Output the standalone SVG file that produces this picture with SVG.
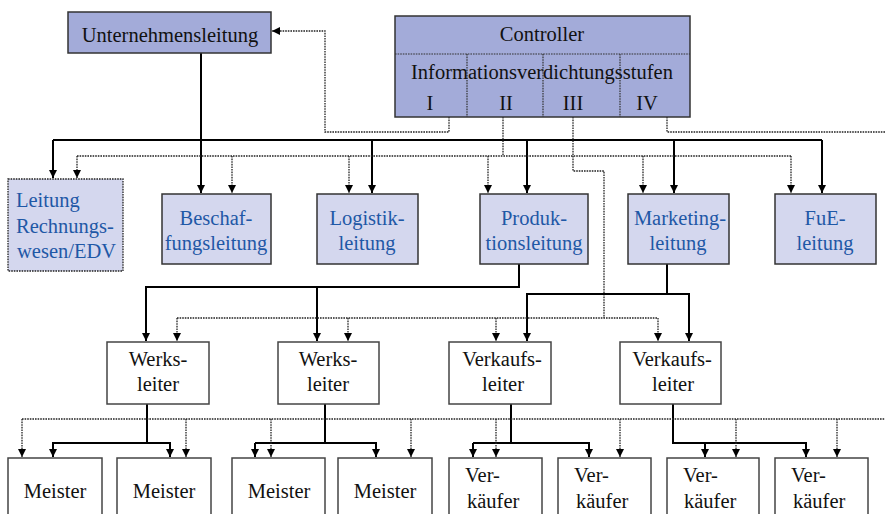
<svg xmlns="http://www.w3.org/2000/svg" width="885" height="514" viewBox="0 0 885 514">
<defs>
<marker id="ah" viewBox="0 0 10 10" refX="10" refY="5" markerWidth="8" markerHeight="8" markerUnits="userSpaceOnUse" orient="auto"><path d="M0,0 L10,5 L0,10 z" fill="#000"/></marker>
<style>
.top{fill:#a3abd9;stroke:#333;stroke-width:1.5}
.mid{fill:#d4d7ee;stroke:#333;stroke-width:1.5}
.wh{fill:#fff;stroke:#444;stroke-width:1.5}
.t{font-family:"Liberation Serif","Times New Roman",serif;font-size:20.5px;fill:#111;text-anchor:middle}
.b{fill:#1f58a6}
.s{text-anchor:start}
.sol{fill:none;stroke:#000;stroke-width:2}
.dot{fill:none;stroke:#222;stroke-width:1.3;stroke-dasharray:1.6 1}
.in{fill:none;stroke:#333;stroke-width:1.2;stroke-dasharray:1.6 1}
</style>
</defs>
<g id="connectors">
<!-- solid level 1 -->
<path class="sol" d="M201,53 V193" marker-end="url(#ah)"/>
<path class="sol" d="M53,140 H822"/>
<path class="sol" d="M53,140 V178" marker-end="url(#ah)"/>
<path class="sol" d="M372,140 V193" marker-end="url(#ah)"/>
<path class="sol" d="M527,140 V193" marker-end="url(#ah)"/>
<path class="sol" d="M674,140 V193" marker-end="url(#ah)"/>
<path class="sol" d="M822,140 V193" marker-end="url(#ah)"/>
<!-- dotted level 1 -->
<path class="dot" d="M449,117 V132 H325 V31 H272" marker-end="url(#ah)"/>
<path class="dot" d="M503,117 V156"/>
<path class="dot" d="M77,156 H791"/>
<path class="dot" d="M77,156 V178" marker-end="url(#ah)"/>
<path class="dot" d="M232,156 V193" marker-end="url(#ah)"/>
<path class="dot" d="M349,156 V193" marker-end="url(#ah)"/>
<path class="dot" d="M488,156 V193" marker-end="url(#ah)"/>
<path class="dot" d="M643,156 V193" marker-end="url(#ah)"/>
<path class="dot" d="M791,156 V193" marker-end="url(#ah)"/>
<path class="dot" d="M573,117 V171 H604 V318"/>
<path class="dot" d="M667,117 V132 H885"/>
<!-- level 2 solid -->
<path class="sol" d="M519,264 V287 H146 V341" marker-end="url(#ah)"/>
<path class="sol" d="M317,287 V341" marker-end="url(#ah)"/>
<path class="sol" d="M667,264 V294"/>
<path class="sol" d="M527,341 V294 H689 V341" marker-end="url(#ah)"/>
<path class="sol" d="M527,294 V341" marker-end="url(#ah)"/>
<!-- level 2 dotted -->
<path class="dot" d="M177,318 H658"/>
<path class="dot" d="M177,318 V341" marker-end="url(#ah)"/>
<path class="dot" d="M348,318 V341" marker-end="url(#ah)"/>
<path class="dot" d="M496,318 V341" marker-end="url(#ah)"/>
<path class="dot" d="M658,318 V341" marker-end="url(#ah)"/>
<!-- level 3 solid -->
<path class="sol" d="M147,404 V443"/>
<path class="sol" d="M53,457 V443 H170 V457" marker-end="url(#ah)"/>
<path class="sol" d="M53,443 V457" marker-end="url(#ah)"/>
<path class="sol" d="M325,404 V443"/>
<path class="sol" d="M255,443 H376 V457" marker-end="url(#ah)"/>
<path class="sol" d="M255,443 V457" marker-end="url(#ah)"/>
<path class="sol" d="M511,404 V443"/>
<path class="sol" d="M473,443 H589 V457" marker-end="url(#ah)"/>
<path class="sol" d="M473,443 V457" marker-end="url(#ah)"/>
<path class="sol" d="M673,404 V443 H806 V457" marker-end="url(#ah)"/>
<path class="sol" d="M705,443 V457" marker-end="url(#ah)"/>
<!-- level 3 dotted -->
<path class="dot" d="M22,419 H885"/>
<path class="dot" d="M22,419 V457" marker-end="url(#ah)"/>
<path class="dot" d="M186,419 V457" marker-end="url(#ah)"/>
<path class="dot" d="M271,419 V457" marker-end="url(#ah)"/>
<path class="dot" d="M411,419 V457" marker-end="url(#ah)"/>
<path class="dot" d="M496,419 V457" marker-end="url(#ah)"/>
<path class="dot" d="M620,419 V457" marker-end="url(#ah)"/>
<path class="dot" d="M736,419 V457" marker-end="url(#ah)"/>
<path class="dot" d="M837,419 V457" marker-end="url(#ah)"/>
</g>
<g id="unternehmensleitung">
<rect class="top" x="68" y="12" width="203" height="41"/>
<text class="t" x="170" y="42">Unternehmensleitung</text>
</g>
<g id="controller">
<rect class="top" x="395" y="16" width="295" height="101"/>
<path class="in" d="M395,54 H690 M467,54 V117 M543,54 V117 M620,54 V117"/>
<text class="t" x="542" y="41">Controller</text>
<text class="t" x="542" y="79">Informationsverdichtungsstufen</text>
<text class="t" x="430" y="110">I</text>
<text class="t" x="506" y="110">II</text>
<text class="t" x="573" y="110">III</text>
<text class="t" x="647" y="110">IV</text>
</g>
<g id="rechnungswesen">
<rect x="8" y="179" width="115" height="92" fill="#d4d7ee" stroke="#222" stroke-width="1.3" stroke-dasharray="1.6 1"/>
<text class="t b s" x="16" y="207">Leitung</text>
<text class="t b s" x="16" y="233">Rechnungs-</text>
<text class="t b s" x="17" y="258">wesen/EDV</text>
</g>
<g id="beschaffung">
<rect class="mid" x="162" y="194" width="109" height="70"/>
<text class="t b" x="216" y="225">Beschaf-</text>
<text class="t b" x="216" y="250">fungsleitung</text>
</g>
<g id="logistik">
<rect class="mid" x="317" y="194" width="101" height="70"/>
<text class="t b" x="367" y="225">Logistik-</text>
<text class="t b" x="367" y="250">leitung</text>
</g>
<g id="produktion">
<rect class="mid" x="480" y="194" width="108" height="70"/>
<text class="t b" x="534" y="225">Produk-</text>
<text class="t b" x="534" y="250">tionsleitung</text>
</g>
<g id="marketing">
<rect class="mid" x="628" y="194" width="101" height="70"/>
<text class="t b" x="680" y="225">Marketing-</text>
<text class="t b" x="678" y="250">leitung</text>
</g>
<g id="fue">
<rect class="mid" x="775" y="194" width="101" height="70"/>
<text class="t b" x="825" y="225">FuE-</text>
<text class="t b" x="825" y="250">leitung</text>
</g>
<g id="werksleiter1">
<rect class="wh" x="107" y="342" width="102" height="62"/>
<text class="t" x="158" y="366">Werks-</text>
<text class="t" x="158" y="391">leiter</text>
</g>
<g id="werksleiter2">
<rect class="wh" x="278" y="342" width="101" height="62"/>
<text class="t" x="328" y="366">Werks-</text>
<text class="t" x="328" y="391">leiter</text>
</g>
<g id="verkaufsleiter1">
<rect class="wh" x="449" y="342" width="102" height="62"/>
<text class="t" x="502" y="366">Verkaufs-</text>
<text class="t" x="503" y="391">leiter</text>
</g>
<g id="verkaufsleiter2">
<rect class="wh" x="620" y="342" width="101" height="62"/>
<text class="t" x="672" y="366">Verkaufs-</text>
<text class="t" x="673" y="391">leiter</text>
</g>
<g id="meister1">
<rect class="wh" x="8" y="458" width="94" height="70"/>
<text class="t" x="55" y="498">Meister</text>
</g>
<g id="meister2">
<rect class="wh" x="117" y="458" width="94" height="70"/>
<text class="t" x="164" y="498">Meister</text>
</g>
<g id="meister3">
<rect class="wh" x="232" y="458" width="93" height="70"/>
<text class="t" x="279" y="498">Meister</text>
</g>
<g id="meister4">
<rect class="wh" x="338" y="458" width="94" height="70"/>
<text class="t" x="385" y="498">Meister</text>
</g>
<g id="verkaeufer1">
<rect class="wh" x="449" y="458" width="93" height="70"/>
<text class="t s" x="465" y="482">Ver-</text>
<text class="t s" x="467" y="508">käufer</text>
</g>
<g id="verkaeufer2">
<rect class="wh" x="558" y="458" width="93" height="70"/>
<text class="t s" x="574" y="482">Ver-</text>
<text class="t s" x="576" y="508">käufer</text>
</g>
<g id="verkaeufer3">
<rect class="wh" x="667" y="458" width="92" height="70"/>
<text class="t s" x="683" y="482">Ver-</text>
<text class="t s" x="684" y="508">käufer</text>
</g>
<g id="verkaeufer4">
<rect class="wh" x="775" y="458" width="93" height="70"/>
<text class="t s" x="791" y="482">Ver-</text>
<text class="t s" x="793" y="508">käufer</text>
</g>
</svg>
